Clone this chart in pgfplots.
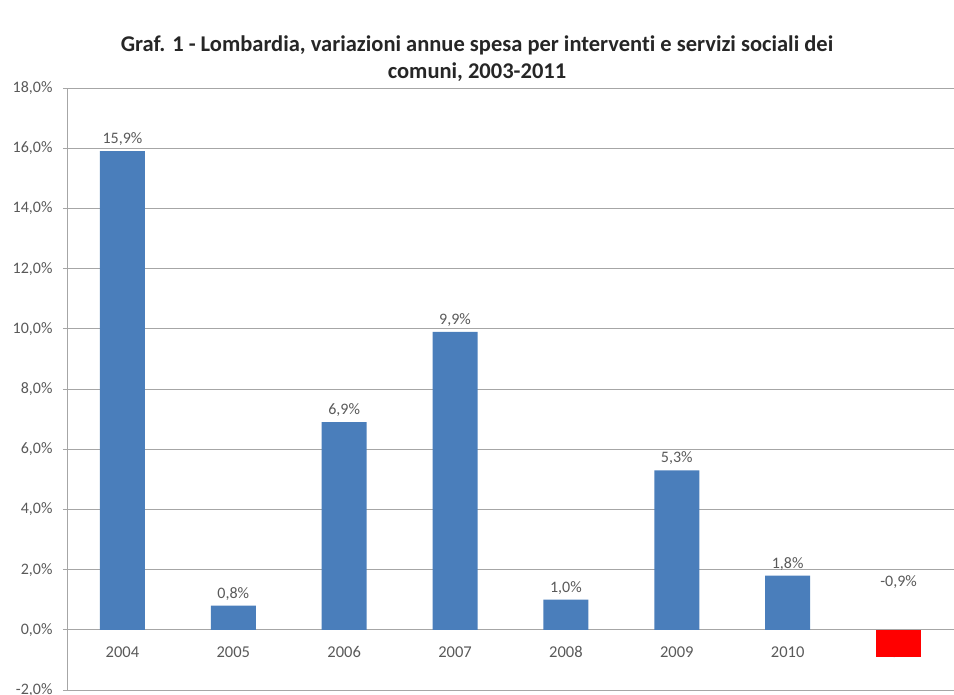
\documentclass[border=0pt]{standalone}
\usepackage{pgfplots}
\pgfplotsset{compat=1.18}
\usepackage{fontspec}
\setmainfont{Carlito}[Ligatures={NoCommon}]
\definecolor{barblue}{HTML}{4A7EBB}
\definecolor{gridgray}{HTML}{A6A6A6}
\definecolor{txtgray}{HTML}{595959}
\definecolor{titlegray}{HTML}{262626}
\begin{document}
\begin{tikzpicture}
\begin{axis}[
  set layers,
  scale only axis, width=887pt, height=602pt,
  xmin=-0.5, xmax=7.5, ymin=-2, ymax=18,
  ytick={-2,0,2,4,6,8,10,12,14,16,18},
  xtick={0,1,2,3,4,5,6,7},
  xticklabels={2004,2005,2006,2007,2008,2009,2010,2011},
  ymajorgrids, grid style={gridgray, line width=0.8pt},
  axis lines*=left,
  axis line style={gridgray, line width=0.8pt},
  xtick style={draw=none},
  ytick style={gridgray, line width=0.8pt},
  tick align=outside, major tick length=4pt,
  /pgf/number format/assume math mode=true,
  yticklabel={\pgfmathprintnumber[fixed,fixed zerofill,precision=1,use comma]{\tick}\%},
  yticklabel style={font=\fontsize{16}{16}\selectfont, text=txtgray, xshift=-7pt},
  xticklabel style={font=\fontsize{16.5}{16.5}\selectfont, text=txtgray, yshift=51pt},
  clip=false,
]
\addplot[ybar, bar shift=0pt, bar width=45pt, fill=barblue, draw=none,
  nodes near coords={\pgfmathprintnumber[fixed,fixed zerofill,precision=1,use comma]{\pgfplotspointmeta}\%},
  nodes near coords style={font=\fontsize{16}{16}\selectfont, text=txtgray, yshift=2pt}]
  coordinates {(0,15.9) (1,0.8) (2,6.9) (3,9.9) (4,1.0) (5,5.3) (6,1.8)};
\addplot[ybar, bar shift=0pt, bar width=45pt, fill=red, draw=none]
  coordinates {(7,-0.9)};
\node[font=\fontsize{16}{16}\selectfont, text=txtgray] at (axis cs:7,1.6) {-0,9\%};
\coordinate (BL) at (rel axis cs:0,0);
\end{axis}
\path (BL) ++(410pt,631.5pt) node[font=\fontsize{22.5}{27}\selectfont\bfseries, text=titlegray, align=center]
  {Graf. 1 - Lombardia, variazioni annue spesa per interventi e servizi sociali dei\\ comuni, 2003-2011};
\pgfresetboundingbox
\path (BL) ++(-67pt,-5pt) rectangle ++(954pt,695pt);
\end{tikzpicture}
\end{document}
